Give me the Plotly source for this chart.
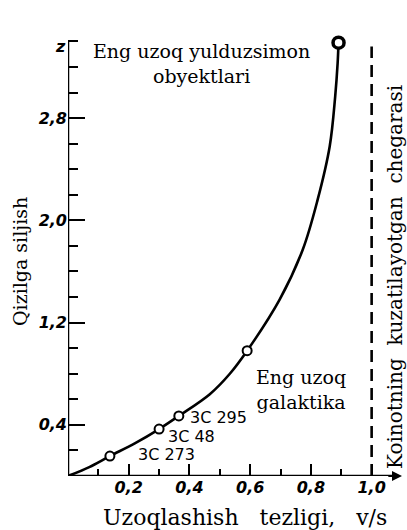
import plotly.graph_objects as go

# ---- data ----
curve_v = [0, 0.07, 0.138, 0.22, 0.30, 0.365, 0.467, 0.533, 0.59, 0.697, 0.773, 0.822, 0.862, 0.88, 0.888, 0.891]
curve_z = [0, 0.07, 0.156, 0.255, 0.367, 0.47, 0.64, 0.80, 0.98, 1.38, 1.77, 2.16, 2.58, 2.97, 3.23, 3.39]

obj_v = [0.138, 0.30, 0.365, 0.59]
obj_z = [0.156, 0.367, 0.47, 0.98]
obj_names = ["3C 273", "3C 48", "3C 295"]

quasar_v = [0.891]
quasar_z = [3.39]

limit_v = 1.0

x_tickvals = [0.2, 0.4, 0.6, 0.8, 1.0]
x_ticktext = ["0,2", "0,4", "0,6", "0,8", "1,0"]
x_minor = [0.1, 0.3, 0.5, 0.7, 0.9]
y_tickvals = [0.4, 1.2, 2.0, 2.8]
y_ticktext = ["0,4", "1,2", "2,0", "2,8"]
y_minor = [0.2, 0.6, 0.8, 1.0, 1.4, 1.6, 1.8, 2.2, 2.4, 2.6, 3.0, 3.2, 3.4]

X_RANGE = [0, 1.1]
Y_RANGE = [0, 3.45]

SERIF = "DejaVu Serif"
TICKFONT = dict(family="DejaVu Sans", size=16, color="black", weight="bold", style="italic")

W, H = 407, 530
ML, MR, MT, MB = 68, 5, 35, 54
PW, PH = W - ML - MR, H - MT - MB


def px_x(px):
    return (px - ML) / PW


def px_y(py):
    return (H - MB - py) / PH


fig = go.Figure()

fig.add_trace(go.Scatter(x=curve_v, y=curve_z, mode="lines",
                         line=dict(color="black", width=2.6, shape="spline", smoothing=1.0),
                         hoverinfo="skip", showlegend=False))
fig.add_trace(go.Scatter(x=obj_v, y=obj_z, mode="markers",
                         marker=dict(symbol="circle", size=9, color="white",
                                     line=dict(color="black", width=2)),
                         showlegend=False))
fig.add_trace(go.Scatter(x=quasar_v, y=quasar_z, mode="markers",
                         marker=dict(symbol="circle", size=11, color="white",
                                     line=dict(color="black", width=3.5)),
                         showlegend=False))
# carrier for the minor-tick overlay axes
fig.add_trace(go.Scatter(x=[None], y=[None], xaxis="x2", yaxis="y2",
                         showlegend=False, hoverinfo="skip"))

# axis lines
fig.add_shape(type="line", x0=0, x1=0, y0=0, y1=3.41, xref="x", yref="y",
              line=dict(color="black", width=2.5))
fig.add_shape(type="line", x0=0, x1=1.08, y0=0, y1=0, xref="x", yref="y",
              line=dict(color="black", width=2.5))
fig.add_annotation(x=1.1, y=0, ax=1.05, ay=0, xref="x", yref="y", axref="x", ayref="y",
                   text="", showarrow=True, arrowhead=2, arrowsize=1, arrowwidth=2,
                   arrowcolor="black")

# observable limit
fig.add_shape(type="line", x0=limit_v, x1=limit_v, y0=0, y1=3.36, xref="x", yref="y",
              line=dict(color="black", width=2.6, dash="12px,7px"))

C = dict(xanchor="center", yanchor="middle", showarrow=False)

# labels
fig.add_annotation(x=0.441, y=3.23, xref="x", yref="y",
                   text="Eng uzoq yulduzsimon<br>obyektlari",
                   font=dict(family=SERIF, size=19, color="black"), align="center", **C)
fig.add_annotation(x=0.767, y=0.68, xref="x", yref="y",
                   text="Eng uzoq<br>galaktika",
                   font=dict(family=SERIF, size=19, color="black"), align="center", **C)

name_pos = [(0.323, 0.168), (0.407, 0.31), (0.494, 0.458)]
for (lx, ly), nm in zip(name_pos, obj_names):
    fig.add_annotation(x=lx, y=ly, xref="x", yref="y", text=nm,
                       font=dict(family="DejaVu Sans", size=16, color="black"), **C)

fig.add_annotation(x=px_x(395), y=px_y(277), xref="paper", yref="paper",
                   text="Koinotning\u00a0 kuzatilayotgan\u00a0 chegarasi",
                   textangle=-90, font=dict(family=SERIF, size=20, color="black"), **C)

fig.add_annotation(x=px_x(20), y=px_y(262), xref="paper", yref="paper",
                   text="Qizilga siljish", textangle=-90,
                   font=dict(family=SERIF, size=19, color="black"), **C)
fig.add_annotation(x=px_x(245), y=px_y(517), xref="paper", yref="paper",
                   text="Uzoqlashish\u00a0\u00a0 tezligi,\u00a0\u00a0 v/s",
                   font=dict(family=SERIF, size=22, color="black"), **C)

fig.add_annotation(x=px_x(60), y=px_y(46), xref="paper", yref="paper", text="z",
                   font=TICKFONT, **C)

axis_common = dict(showgrid=False, zeroline=False, showline=False, automargin=False)

fig.update_layout(
    width=W, height=H,
    margin=dict(l=ML, r=MR, t=MT, b=MB),
    paper_bgcolor="white", plot_bgcolor="white",
    xaxis=dict(range=X_RANGE, tickmode="array", tickvals=x_tickvals, ticktext=x_ticktext,
               ticks="inside", ticklen=12, tickwidth=2, tickcolor="black",
               tickfont=TICKFONT, **axis_common),
    yaxis=dict(range=Y_RANGE, tickmode="array", tickvals=y_tickvals, ticktext=y_ticktext,
               ticks="inside", ticklen=17, tickwidth=2, tickcolor="black",
               tickfont=TICKFONT, **axis_common),
    xaxis2=dict(range=X_RANGE, overlaying="x", anchor="y2", side="bottom",
                tickmode="array", tickvals=x_minor, showticklabels=False,
                ticks="inside", ticklen=7, tickwidth=2, tickcolor="black", **axis_common),
    yaxis2=dict(range=Y_RANGE, overlaying="y", anchor="x2", side="left",
                tickmode="array", tickvals=y_minor, showticklabels=False,
                ticks="inside", ticklen=10, tickwidth=2, tickcolor="black", **axis_common),
)

# remove the default 8px page margin so the 407x530 figure fills the window exactly
fig.write_html("out.html", config={"displayModeBar": False},
               post_script="document.body.style.margin='0';document.body.style.overflow='hidden';")
